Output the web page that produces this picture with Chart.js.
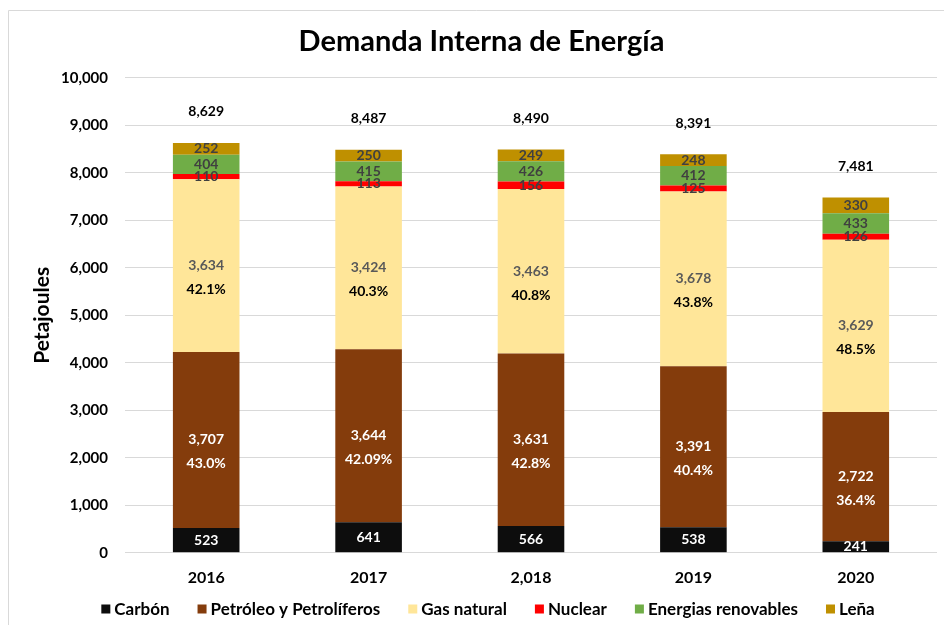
<!DOCTYPE html>
<html>
<head>
<meta charset="utf-8">
<script src="https://cdn.jsdelivr.net/npm/chart.js@4.4.1/dist/chart.umd.min.js"></script>
<style>
  html, body { margin: 0; padding: 0; background: #fff; }
  #wrap { width: 944px; height: 625px; position: relative; }
</style>
</head>
<body>
<div id="wrap"><canvas id="c" width="944" height="625"></canvas></div>
<script>
const categories = ['2016', '2017', '2,018', '2019', '2020'];
const carbon     = [523, 641, 566, 538, 241];
const petroleo   = [3707, 3644, 3631, 3391, 2722];
const gasNatural = [3634, 3424, 3463, 3678, 3629];
const nuclear    = [110, 113, 156, 125, 126];
const renovables = [404, 415, 426, 412, 433];
const lena       = [252, 250, 249, 248, 330];
const totals     = [8629, 8487, 8490, 8391, 7481];
const pctGas      = ['42.1%', '40.3%', '40.8%', '43.8%', '48.5%'];
const pctPetroleo = ['43.0%', '42.09%', '42.8%', '40.4%', '36.4%'];

const FONT = 'Lato, "Open Sans", sans-serif';
const fmt = v => v.toLocaleString('en-US');

const datasets = [
  { label: 'Carbón', data: carbon, backgroundColor: '#0d0d0d', labelColor: '#ffffff' },
  { label: 'Petróleo y Petrolíferos', data: petroleo, backgroundColor: '#843c0c', labelColor: '#ffffff', pct: pctPetroleo, pctColor: '#ffffff' },
  { label: 'Gas natural', data: gasNatural, backgroundColor: '#ffe699', labelColor: '#595959', pct: pctGas, pctColor: '#000000' },
  { label: 'Nuclear', data: nuclear, backgroundColor: '#ff0000', labelColor: '#404040' },
  { label: 'Energias renovables', data: renovables, backgroundColor: '#70ad47', labelColor: '#404040' },
  { label: 'Leña', data: lena, backgroundColor: '#bf9000', labelColor: '#404040' }
].map(d => Object.assign(d, { stack: 's', barPercentage: 1.0, categoryPercentage: 0.41, borderWidth: 0 }));

const labelPlugin = {
  id: 'labels',
  beforeDraw(chart) {
    const ctx = chart.ctx;
    ctx.save();
    ctx.strokeStyle = '#d9d9d9';
    ctx.lineWidth = 1;
    ctx.beginPath();
    ctx.moveTo(8.5, 625); ctx.lineTo(8.5, 10.5); ctx.lineTo(944, 10.5);
    ctx.stroke();
    ctx.restore();
  },
  afterDatasetsDraw(chart) {
    const ctx = chart.ctx;
    ctx.save();
    ctx.textAlign = 'center';
    ctx.textBaseline = 'middle';
    ctx.font = 'bold 14px ' + FONT;
    chart.data.datasets.forEach((ds, di) => {
      const meta = chart.getDatasetMeta(di);
      meta.data.forEach((bar, i) => {
        const cy = (bar.y + bar.base) / 2;
        ctx.fillStyle = ds.labelColor;
        ctx.fillText(fmt(ds.data[i]), bar.x, cy);
        if (ds.pct) {
          ctx.fillStyle = ds.pctColor;
          ctx.fillText(ds.pct[i], bar.x, cy + 24);
        }
      });
    });
    const y = chart.scales.y;
    const lastMeta = chart.getDatasetMeta(chart.data.datasets.length - 1);
    ctx.fillStyle = '#000000';
    lastMeta.data.forEach((bar, i) => {
      ctx.fillText(fmt(totals[i]), bar.x, y.getPixelForValue(totals[i]) - 31);
    });
    ctx.restore();
  },
  afterDraw(chart) {
    // bottom legend built from the datasets
    const ctx = chart.ctx;
    ctx.save();
    ctx.font = 'bold 17px ' + FONT;
    ctx.textBaseline = 'middle';
    ctx.textAlign = 'left';
    const box = 9, gapText = 4, gapItem = 28, cy = 609;
    const items = chart.data.datasets.map(ds => ({ text: ds.label, color: ds.backgroundColor, w: ctx.measureText(ds.label).width }));
    const total = items.reduce((s, it) => s + box + gapText + it.w, 0) + gapItem * (items.length - 1);
    let x = 488 - total / 2;
    items.forEach(it => {
      ctx.fillStyle = it.color;
      ctx.fillRect(x, cy - box / 2, box, box);
      ctx.fillStyle = '#000000';
      ctx.fillText(it.text, x + box + gapText, cy + 1);
      x += box + gapText + it.w + gapItem;
    });
    ctx.restore();
  }
};

new Chart(document.getElementById('c'), {
  type: 'bar',
  data: { labels: categories, datasets },
  options: {
    responsive: false,
    animation: false,
    layout: { padding: { left: 26, right: 7, top: 0, bottom: 23 } },
    plugins: {
      title: {
        display: true,
        text: 'Demanda Interna de Energía',
        font: { family: FONT, size: 29, weight: 'bold' },
        color: '#000000',
        padding: { top: 24, bottom: 19 }
      },
      legend: { display: false },
      tooltip: { enabled: false }
    },
    scales: {
      x: {
        stacked: true,
        grid: { display: false, drawTicks: false },
        border: { display: false },
        ticks: { font: { family: FONT, size: 16, weight: 'bold' }, color: '#000000', padding: 15 }
      },
      y: {
        stacked: true,
        min: 0, max: 10000,
        afterFit: scale => { scale.width = 99; },
        ticks: {
          stepSize: 1000,
          font: { family: FONT, size: 15, weight: 'bold' },
          color: '#000000',
          padding: 17,
          callback: v => fmt(v)
        },
        grid: { color: '#d9d9d9', drawTicks: false },
        border: { display: false },
        title: {
          display: true,
          text: 'Petajoules',
          font: { family: FONT, size: 21, weight: 'bold' },
          color: '#000000',
          padding: { bottom: 4 }
        }
      }
    }
  },
  plugins: [labelPlugin]
});
</script>
</body>
</html>
